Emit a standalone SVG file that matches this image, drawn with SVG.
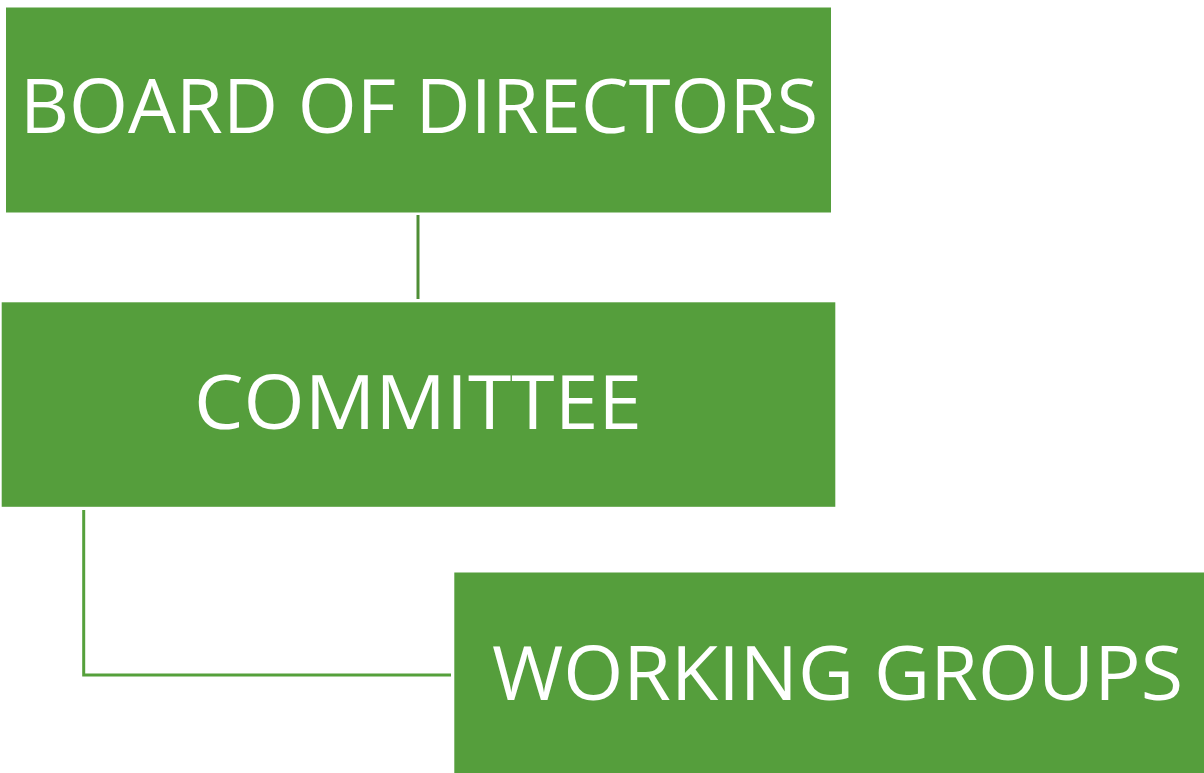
<svg xmlns="http://www.w3.org/2000/svg" width="1204" height="773" viewBox="0 0 1204 773">
<style>
.box{fill:#559E3C}
.lbl{fill:#FFFFFF;font-family:"Open Sans","Noto Sans","Liberation Sans",sans-serif;font-size:75px}
.conn{fill:none;stroke:#4E8E36;stroke-width:3}
</style>
<rect width="1204" height="773" fill="#FFFFFF"/>
<g id="connectors">
<line class="conn" x1="418" y1="215" x2="418" y2="299"/>
<polyline class="conn" style="stroke:#55A03B" points="83.7,510 83.7,675 451,675"/>
</g>
<g id="board">
<rect class="box" x="6" y="7.5" width="825" height="205"/>
<text class="lbl" x="20" y="133" textLength="798" lengthAdjust="spacingAndGlyphs">BOARD OF DIRECTORS</text>
</g>
<g id="committee">
<rect class="box" x="1.7" y="302.3" width="833.6" height="204.5"/>
<text class="lbl" x="194" y="428.5" textLength="448" lengthAdjust="spacingAndGlyphs">COMMITTEE</text>
</g>
<g id="working-groups">
<rect class="box" x="454.3" y="572.5" width="750" height="201"/>
<text class="lbl" x="492" y="699.5" textLength="691" lengthAdjust="spacingAndGlyphs">WORKING GROUPS</text>
</g>
</svg>
